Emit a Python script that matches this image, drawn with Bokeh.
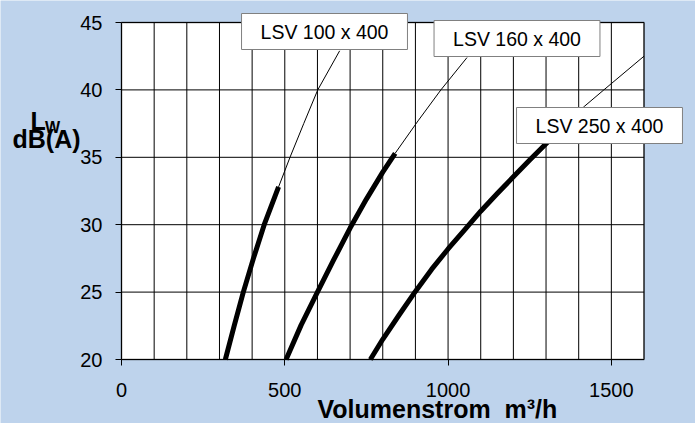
from bokeh.plotting import figure
from bokeh.models import Range1d, FixedTicker, Label, LinearAxis, BoxAnnotation
from bokeh.embed import file_html
from bokeh.resources import INLINE

# ---- data ----
x_ticks = [0, 500, 1000, 1500]
y_ticks = [20, 25, 30, 35, 40, 45]
x_grid = list(range(0, 1601, 100))
x_min, x_max = 0, 1600
y_min, y_max = 20, 45

series_names = ["LSV 100 x 400", "LSV 160 x 400", "LSV 250 x 400"]

# measured (thick) part of each curve
v100_thick = [318, 345, 373, 404, 437, 481]
l100_thick = [20, 22.5, 25, 27.5, 30, 32.8]
v160_thick = [504, 550, 600, 650, 700, 750, 800, 838]
l160_thick = [20, 22.55, 25.0, 27.4, 29.75, 31.9, 33.9, 35.3]
v250_thick = [762, 800, 850, 900, 950, 1000, 1050, 1100, 1150, 1200, 1250, 1300, 1340]
l250_thick = [20, 21.5, 23.3, 25.05, 26.7, 28.2, 29.6, 31.0, 32.3, 33.55, 34.8, 36.0, 36.95]

# extension (thin) part of each curve
v100_thin = [481, 516, 558, 601, 668]
l100_thin = [32.8, 35, 37.5, 40, 42.9]
v160_thin = [838, 908, 978, 1058]
l160_thin = [35.3, 37.7, 40, 42.4]
v250_thin = [1340, 1417, 1477, 1600]
l250_thin = [36.95, 38.77, 40, 42.5]

BG = "#BED3EC"
FONT = "Liberation Sans"

W, H = 695, 423
# where the plot area sits on the canvas (pixels)
PL, PR, PT, PB = 121, 643.5, 22, 359
sx = (PR - PL) / (x_max - x_min)
sy = (PB - PT) / (y_max - y_min)

x_range = Range1d(x_min - PL / sx, x_max + (W - PR) / sx)
y_range = Range1d(y_min - (H - PB) / sy, y_max + PT / sy)

p = figure(width=W, height=H, output_backend="svg", toolbar_location=None,
           x_range=x_range, y_range=y_range,
           x_axis_type=None, y_axis_type=None,
           min_border=0, min_border_left=0, min_border_right=0,
           min_border_top=0, min_border_bottom=0)
p.grid.visible = False
p.outline_line_color = None
p.background_fill_color = BG
p.border_fill_color = BG


def px(xp, yp):
    """canvas pixel -> data coords"""
    return x_min + (xp - PL) / sx, y_max - (yp - PT) / sy


# plot area
p.add_layout(BoxAnnotation(left=x_min, right=x_max, bottom=y_min, top=y_max,
                           fill_color="white", fill_alpha=1,
                           line_color="black", line_width=2, level="image"))

# grid lines
p.segment(x0=x_grid, y0=[y_min] * len(x_grid), x1=x_grid, y1=[y_max] * len(x_grid),
          line_color="black", line_width=1)
p.segment(x0=[x_min] * len(y_ticks), y0=y_ticks, x1=[x_max] * len(y_ticks), y1=y_ticks,
          line_color="black", line_width=1)

# axes fixed at the plot-area edges
xax = LinearAxis(fixed_location=y_min, ticker=FixedTicker(ticks=x_ticks, minor_ticks=[]))
yax = LinearAxis(fixed_location=x_min, ticker=FixedTicker(ticks=y_ticks, minor_ticks=[]))
for ax in (xax, yax):
    ax.axis_line_color = None
    ax.major_tick_in = 0
    ax.major_tick_out = 6
    ax.major_tick_line_color = "black"
    ax.minor_tick_line_color = None
    ax.major_label_text_font = FONT
    ax.major_label_text_font_size = "20px"
    ax.major_label_text_color = "black"
xax.major_label_standoff = 17
yax.major_label_standoff = 13
p.add_layout(xax, "below")
p.add_layout(yax, "left")

# curves
thin = [(v100_thin, l100_thin), (v160_thin, l160_thin), (v250_thin, l250_thin)]
thick = [(v100_thick, l100_thick), (v160_thick, l160_thick), (v250_thick, l250_thick)]
for xs, ys in thin:
    p.line(xs, ys, line_color="black", line_width=1)
for xs, ys in thick:
    p.line(xs, ys, line_color="black", line_width=5, line_cap="butt", line_join="round")

# series labels (box centres in canvas pixels)
box_centres = [(324, 31), (516.5, 38), (599, 125)]
for name, (bx, by) in zip(series_names, box_centres):
    dx, dy = px(bx, by)
    p.add_layout(Label(x=dx, y=dy, text=name, text_align="center", text_baseline="middle",
                       text_font=FONT, text_font_size="19.5px", text_color="black",
                       background_fill_color="white", border_line_color="#808080",
                       border_line_width=1, padding=(19, 7)))


# axis titles
def title(text, xp, yp, size):
    dx, dy = px(xp, yp)
    p.add_layout(Label(x=dx, y=dy, text=text, text_align="left", text_baseline="alphabetic",
                       text_font=FONT, text_font_size=size, text_font_style="bold",
                       text_color="black"))


title("Volumenstrom\u00a0\u00a0m³/h", 317, 408, "25px")
title("L", 30, 120.5, "25px")
title("W", 44.5, 127.3, "16px")
title("dB(A)", 12, 138.5, "25px")

open("out.html", "w").write(file_html(p, INLINE))
